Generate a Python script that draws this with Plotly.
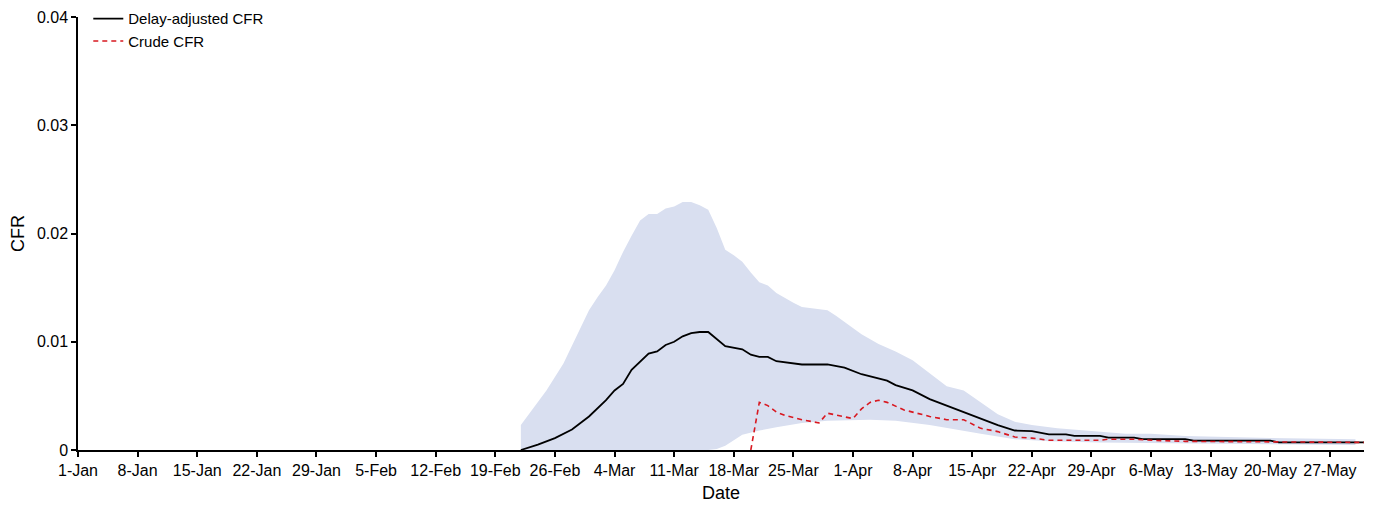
import plotly.graph_objects as go

# Delay-adjusted CFR
adj_dates = ["2020-02-22", "2020-02-24", "2020-02-26", "2020-02-28", "2020-03-01", "2020-03-03",
             "2020-03-04", "2020-03-05", "2020-03-06", "2020-03-08", "2020-03-09", "2020-03-10",
             "2020-03-11", "2020-03-12", "2020-03-13", "2020-03-14", "2020-03-15", "2020-03-17",
             "2020-03-19", "2020-03-20", "2020-03-21", "2020-03-22", "2020-03-23", "2020-03-26",
             "2020-03-29", "2020-03-31", "2020-04-02", "2020-04-05", "2020-04-06", "2020-04-08",
             "2020-04-10", "2020-04-12", "2020-04-14", "2020-04-16", "2020-04-18", "2020-04-20",
             "2020-04-22", "2020-04-24", "2020-04-26", "2020-04-27", "2020-04-30", "2020-05-01",
             "2020-05-04", "2020-05-05", "2020-05-10", "2020-05-11", "2020-05-20", "2020-05-21",
             "2020-05-31"]
adj_cfr = [0.0000, 0.0005, 0.0011, 0.0019, 0.0031, 0.0046,
           0.0055, 0.0061, 0.0074, 0.0089, 0.0091, 0.0097,
           0.0100, 0.0105, 0.0108, 0.0109, 0.0109, 0.0096,
           0.0093, 0.0088, 0.0086, 0.0086, 0.0082, 0.0079,
           0.0079, 0.0076, 0.0070, 0.0064, 0.0060, 0.0055,
           0.0047, 0.0041, 0.0035, 0.0029, 0.0023, 0.0018,
           0.00175, 0.00145, 0.00145, 0.0013, 0.0013, 0.00114,
           0.00114, 0.0010, 0.0010, 0.00086, 0.00086, 0.0007,
           0.0007]

# Crude CFR
crude_dates = ["2020-03-20", "2020-03-21", "2020-03-22", "2020-03-23", "2020-03-24", "2020-03-26",
               "2020-03-28", "2020-03-29", "2020-04-01", "2020-04-02", "2020-04-03", "2020-04-04",
               "2020-04-05", "2020-04-07", "2020-04-10", "2020-04-12", "2020-04-14", "2020-04-16",
               "2020-04-18", "2020-04-20", "2020-04-22", "2020-04-24", "2020-04-30", "2020-05-01",
               "2020-05-04", "2020-05-06", "2020-05-10", "2020-05-31"]
crude_cfr = [0.0000, 0.0044, 0.0041, 0.0035, 0.0032, 0.0028,
             0.0025, 0.0034, 0.0029, 0.0038, 0.0044, 0.0046,
             0.0044, 0.0037, 0.0031, 0.0028, 0.0028, 0.0020,
             0.0017, 0.0012, 0.0011, 0.0009, 0.0009, 0.0010,
             0.0010, 0.0009, 0.0008, 0.0007]

# Uncertainty band (upper bound)
upper_dates = ["2020-02-22", "2020-02-23", "2020-02-25", "2020-02-27", "2020-02-29", "2020-03-01",
               "2020-03-02", "2020-03-03", "2020-03-04", "2020-03-05", "2020-03-06", "2020-03-07",
               "2020-03-08", "2020-03-09", "2020-03-10", "2020-03-11", "2020-03-12", "2020-03-13",
               "2020-03-14", "2020-03-15", "2020-03-16", "2020-03-17", "2020-03-18", "2020-03-19",
               "2020-03-20", "2020-03-21", "2020-03-22", "2020-03-23", "2020-03-25", "2020-03-26",
               "2020-03-29", "2020-03-30", "2020-04-02", "2020-04-04", "2020-04-06", "2020-04-08",
               "2020-04-10", "2020-04-12", "2020-04-14", "2020-04-16", "2020-04-18", "2020-04-20",
               "2020-04-22", "2020-04-25", "2020-04-28", "2020-04-30", "2020-05-03", "2020-05-06",
               "2020-05-10", "2020-05-20", "2020-05-30"]
upper_cfr = [0.0023, 0.0034, 0.0055, 0.0080, 0.0112, 0.0129,
             0.0141, 0.0152, 0.0166, 0.0183, 0.0198, 0.0212,
             0.0218, 0.0218, 0.0223, 0.0225, 0.0229, 0.0229,
             0.0226, 0.0222, 0.0205, 0.0185, 0.0180, 0.0174,
             0.0164, 0.0155, 0.0152, 0.0145, 0.0136, 0.0132,
             0.0129, 0.0124, 0.0107, 0.0098, 0.0091, 0.0083,
             0.0071, 0.0059, 0.0055, 0.0044, 0.0033, 0.0026,
             0.0023, 0.0020, 0.0018, 0.0017, 0.0015, 0.0015,
             0.0013, 0.0011, 0.0010]

# Uncertainty band (lower bound)
lower_dates = ["2020-02-22", "2020-03-15", "2020-03-16", "2020-03-17", "2020-03-18", "2020-03-19",
               "2020-03-21", "2020-03-23", "2020-03-26", "2020-03-29", "2020-04-03", "2020-04-06",
               "2020-04-10", "2020-04-13", "2020-04-16", "2020-04-20", "2020-04-24", "2020-04-30",
               "2020-05-10", "2020-05-30"]
lower_cfr = [0.0000, 0.0000, 0.0001, 0.0004, 0.0009, 0.0014,
             0.0018, 0.0021, 0.0025, 0.0027, 0.0028, 0.0027,
             0.0023, 0.0019, 0.0015, 0.0010, 0.0008, 0.0007,
             0.0006, 0.00046]

y_ticks = [0, 0.01, 0.02, 0.03, 0.04]
y_tick_labels = ["0", "0.01", "0.02", "0.03", "0.04"]

FONT = "Arial, 'Liberation Sans', sans-serif"

fig = go.Figure()

fig.add_trace(go.Scatter(
    x=upper_dates + lower_dates[::-1],
    y=upper_cfr + lower_cfr[::-1],
    fill="toself", fillcolor="rgb(217,223,240)",
    line=dict(width=0, color="rgba(0,0,0,0)"),
    mode="lines", showlegend=False, hoverinfo="skip"))

fig.add_trace(go.Scatter(
    x=adj_dates, y=adj_cfr, mode="lines", name="Delay-adjusted CFR",
    line=dict(color="black", width=1.8)))

fig.add_trace(go.Scatter(
    x=crude_dates, y=crude_cfr, mode="lines", name="Crude CFR",
    line=dict(color="#d81820", width=1.6, dash="5px,4px")))

# page has an 8px body margin, so the figure is sized/offset to compensate
fig.update_layout(
    width=1367, height=498,
    margin=dict(l=70, r=11, t=9, b=56, autoexpand=False),
    paper_bgcolor="white", plot_bgcolor="white",
    font=dict(family=FONT, size=16, color="black"),
    legend=dict(x=0.008, y=1.034, xanchor="left", yanchor="top",
                bgcolor="rgba(0,0,0,0)", font=dict(size=15),
                tracegroupgap=0, itemwidth=30),
    xaxis=dict(
        range=["2020-01-01", "2020-05-31"],
        tick0="2020-01-01", dtick=7 * 24 * 3600 * 1000,
        tickformat="%-d-%b",
        showgrid=False, zeroline=False, automargin=False,
        showline=True, linecolor="black", linewidth=1.5,
        ticks="outside", ticklen=5, tickcolor="black", tickwidth=1.5,
        title=dict(text="Date", font=dict(size=18), standoff=8),
        tickfont=dict(size=16)),
    yaxis=dict(
        range=[0, 0.04],
        tickvals=y_ticks, ticktext=y_tick_labels,
        showgrid=False, zeroline=False, automargin=False,
        showline=True, linecolor="black", linewidth=1.5,
        ticks="outside", ticklen=5, tickcolor="black", tickwidth=1.5,
        title=dict(text="CFR", font=dict(size=18)),
        tickfont=dict(size=16)),
)

fig.write_html("out.html")
